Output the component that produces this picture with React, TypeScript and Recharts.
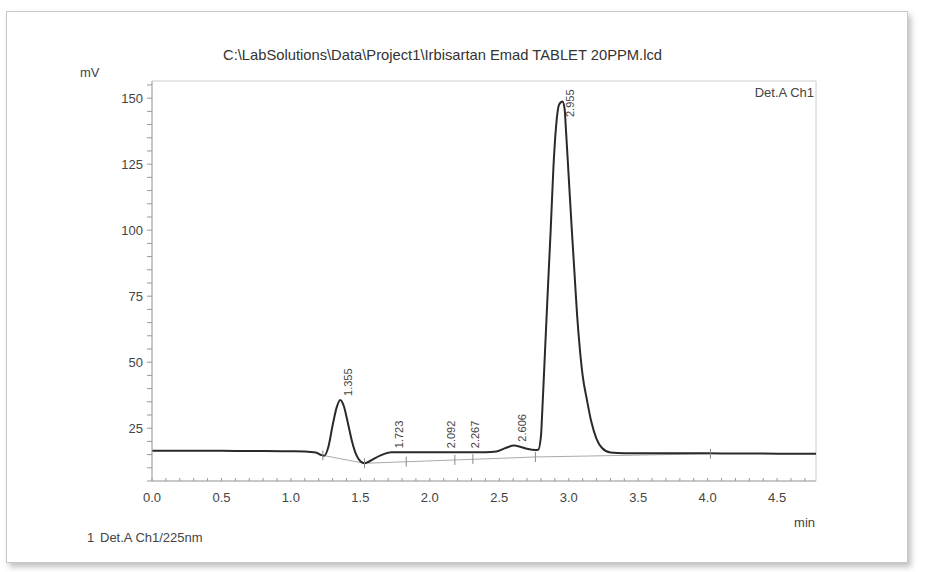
import { ComposedChart, Line, Scatter, XAxis, YAxis, ReferenceArea } from "recharts"

// detector trace (min, mV)
const traceTime = [
  0, 0.2, 0.4, 0.6, 0.8, 1.0, 1.1, 1.18, 1.22, 1.24, 1.27, 1.3, 1.33, 1.355, 1.38, 1.41, 1.44, 1.47, 1.5,
  1.53, 1.56, 1.6, 1.65, 1.7, 1.723, 1.75, 1.85, 2.0, 2.092, 2.2, 2.267, 2.4, 2.48, 2.55, 2.606, 2.65, 2.7,
  2.76, 2.78, 2.8, 2.81, 2.83, 2.85, 2.87, 2.89, 2.91, 2.93, 2.955, 2.97, 2.98, 3.0, 3.02, 3.04, 3.06, 3.08,
  3.1, 3.13, 3.16, 3.2, 3.24, 3.3, 3.4, 3.6, 3.8, 4.0, 4.2, 4.4, 4.6, 4.78,
]
const traceMv = [
  16.5, 16.5, 16.5, 16.4, 16.4, 16.3, 16.2, 15.8, 14.8, 14.6, 18, 26, 33, 35.7, 33.5, 27, 20, 15, 12.5,
  11.7, 12.3, 13.5, 14.8, 15.7, 15.9, 15.9, 15.9, 15.9, 15.9, 15.9, 15.9, 15.9, 16.2, 17.6, 18.4, 18.0, 17.2,
  16.7, 16.8, 22, 32, 55, 78, 100, 124, 140, 147.5, 148.7, 146, 138, 120, 102, 85, 68, 55,
  45, 36, 28, 21, 17.5, 15.8, 15.5, 15.5, 15.5, 15.5, 15.4, 15.4, 15.3, 15.3,
]

// integration baseline (grey)
const baseTime = [1.23, 1.53, 2.76, 4.02]
const baseMv = [14.7, 11.7, 14.1, 15.3]

// peak start / end marks
const markTime = [1.23, 1.53, 1.83, 2.18, 2.31, 2.76, 4.02]
const markMv = [14.7, 11.7, 12.3, 13.0, 13.3, 14.1, 15.3]

// retention times and apex heights
const peakLabels = ["1.355", "1.723", "2.092", "2.267", "2.606", "2.955"]
const peakMv = [35.7, 15.9, 15.9, 15.9, 18.4, 148.7]

const yLabels = [25, 50, 75, 100, 125, 150]
const xLabels = [0, 0.5, 1.0, 1.5, 2.0, 2.5, 3.0, 3.5, 4.0, 4.5]

const trace = traceTime.map((t, i) => ({ t, v: traceMv[i] }))
const baseline = baseTime.map((t, i) => ({ t, v: baseMv[i] }))
const marks = markTime.map((t, i) => ({ t, v: markMv[i] }))
const peaks = peakLabels.map((l, i) => ({ t: parseFloat(l), v: peakMv[i], label: l }))

const yTicks = Array.from({ length: 31 }, (_, i) => 5 + i * 5)
const xTicks = Array.from({ length: 48 }, (_, i) => Math.round(i * 10) / 100)

const W = 925
const H = 572
const LEFT = 152
const TOP = 81
const RIGHT = 816
const BOTTOM = 481
const YW = 60
const XH = 30
const FONT = "'Liberation Sans', Arial, sans-serif"
const INK = "#444"

const YTick = ({ y, payload }: any) => {
  const major = yLabels.includes(payload.value)
  return (
    <g>
      <line x1={LEFT - 5} x2={LEFT} y1={y} y2={y} stroke="#999" />
      {major && (
        <text x={LEFT - 9} y={y} dy={4.5} textAnchor="end" fontSize={13} fill={INK} fontFamily={FONT}>
          {payload.value}
        </text>
      )}
    </g>
  )
}

const XTick = ({ x, payload }: any) => {
  const major = xLabels.some((v) => Math.abs(v - payload.value) < 1e-6)
  return (
    <g>
      <line x1={x} x2={x} y1={BOTTOM} y2={BOTTOM - 3} stroke="#999" />
      {major && (
        <text x={x} y={BOTTOM + 21} textAnchor="middle" fontSize={13} fill={INK} fontFamily={FONT}>
          {payload.value.toFixed(1)}
        </text>
      )}
    </g>
  )
}

const Mark = ({ cx, cy }: any) => (
  <line x1={cx} x2={cx} y1={cy - 5} y2={cy + 5} stroke="#888" strokeWidth={1} />
)

const PeakLabel = ({ cx, cy, payload }: any) => {
  const len = 32
  const y = Math.max(cy - 4, TOP + 4 + len)
  const x = cx + 12
  return (
    <text
      x={x}
      y={y}
      transform={`rotate(-90 ${x} ${y})`}
      fontSize={11}
      fill={INK}
      fontFamily={FONT}
    >
      {payload.label}
    </text>
  )
}

export default function App() {
  return (
    <div style={{ position: "absolute", left: 0, top: 0, width: W, height: H, background: "#fff" }}>
      {/* paper frame */}
      <div
        style={{
          position: "absolute",
          left: 6,
          top: 11,
          width: 900,
          height: 550,
          border: "1px solid #c8c8c8",
          boxShadow: "3px 4px 6px rgba(0,0,0,0.25)",
          background: "#fff",
        }}
      />
      <div style={{ position: "absolute", left: 0, top: 0 }}>
        <ComposedChart
          width={W}
          height={H}
          margin={{ top: TOP, left: LEFT - YW, right: W - RIGHT, bottom: H - BOTTOM - XH }}
        >
          <XAxis
            dataKey="t"
            type="number"
            domain={[0, 4.78]}
            ticks={xTicks}
            interval={0}
            tick={<XTick />}
            tickLine={false}
            axisLine={{ stroke: "#aaa" }}
            height={XH}
            allowDataOverflow
          />
          <YAxis
            dataKey="v"
            type="number"
            domain={[5, 156.5]}
            ticks={yTicks}
            interval={0}
            tick={<YTick />}
            tickLine={false}
            axisLine={{ stroke: "#aaa" }}
            width={YW}
            allowDataOverflow
          />
          <ReferenceArea x1={0} x2={4.78} y1={5} y2={156.5} stroke="#ccc" fill="none" ifOverflow="visible" />
          <Line
            data={baseline}
            dataKey="v"
            type="linear"
            stroke="#aaa"
            strokeWidth={1}
            dot={false}
            isAnimationActive={false}
          />
          <Line
            data={trace}
            dataKey="v"
            type="monotone"
            stroke="#2a2a2a"
            strokeWidth={2}
            dot={false}
            isAnimationActive={false}
          />
          <Scatter data={marks} dataKey="v" shape={<Mark />} isAnimationActive={false} />
          <Scatter data={peaks} dataKey="v" shape={<PeakLabel />} isAnimationActive={false} />
        </ComposedChart>
      </div>
      <svg width={W} height={H} style={{ position: "absolute", left: 0, top: 0, pointerEvents: "none" }}>
        <text
          x={223}
          y={60}
          fontSize={15}
          fill="#333"
          fontFamily={FONT}
          textLength={439}
          lengthAdjust="spacingAndGlyphs"
        >
          C:\LabSolutions\Data\Project1\Irbisartan Emad TABLET 20PPM.lcd
        </text>
        <text x={80} y={77} fontSize={13} fill={INK} fontFamily={FONT}>
          mV
        </text>
        <text x={814} y={97} textAnchor="end" fontSize={13} fill={INK} fontFamily={FONT}>
          Det.A Ch1
        </text>
        <text x={815} y={527} textAnchor="end" fontSize={13} fill={INK} fontFamily={FONT}>
          min
        </text>
        <text x={87} y={542} fontSize={13} fill={INK} fontFamily={FONT}>
          1
        </text>
        <text x={100} y={542} fontSize={13} fill={INK} fontFamily={FONT}>
          Det.A Ch1/225nm
        </text>
      </svg>
    </div>
  )
}
